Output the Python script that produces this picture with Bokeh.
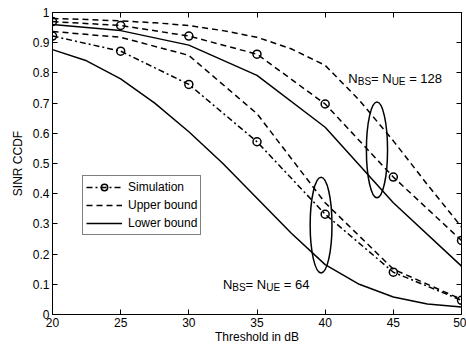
from bokeh.plotting import figure
from bokeh.models import LinearAxis, FixedTicker, CustomJSTickFormatter, Label
from bokeh.embed import file_html
from bokeh.resources import INLINE

# ---------------- data ----------------
thr = [20, 25, 30, 35, 40, 45, 50]
thr_fine = [20, 22.5, 25, 27.5, 30, 32.5, 35, 37.5, 40, 42.5, 45, 47.5, 50]

sim_128 = [0.970, 0.957, 0.922, 0.862, 0.697, 0.455, 0.245]
upper_128 = [0.980, 0.977, 0.972, 0.966, 0.957, 0.940, 0.918, 0.880, 0.825, 0.710, 0.575, 0.430, 0.290]
lower_128 = [0.960, 0.940, 0.892, 0.792, 0.620, 0.370, 0.160]

sim_64 = [0.922, 0.872, 0.762, 0.572, 0.332, 0.140, 0.047]
upper_64 = [0.937, 0.918, 0.858, 0.665, 0.370, 0.150, 0.050]
lower_64 = [0.877, 0.840, 0.780, 0.700, 0.605, 0.500, 0.385, 0.270, 0.165, 0.100, 0.058, 0.035, 0.025]

ellipse_x = [43.8, 39.7]
ellipse_y = [0.545, 0.296]
ellipse_w = [1.55, 1.6]
ellipse_h = [0.317, 0.317]

x_ticks = [20, 25, 30, 35, 40, 45, 50]
y_ticks = [0, 0.1, 0.2, 0.3, 0.4, 0.5, 0.6, 0.7, 0.8, 0.9, 1]
y_tick_labels = ["0", "0.1", "0.2", "0.3", "0.4", "0.5", "0.6", "0.7", "0.8", "0.9", "1"]

legend_labels = ["Simulation", "Upper bound", "Lower bound"]
x_label = "Threshold in dB"
y_label = "SINR CCDF"

label_128 = (41.7, 0.78, ["N", "BS", "= N", "UE", "= 128"])
label_64 = (32.5, 0.10, ["N", "BS", "= N", "UE", "= 64"])

# ---------------- figure ----------------
FONT = "Liberation Sans"
p = figure(width=466, height=346, x_range=(20, 50), y_range=(0, 1),
           output_backend="svg", toolbar_location=None,
           min_border_left=52, min_border_right=5, min_border_top=12, min_border_bottom=31)
p.background_fill_color = "white"
p.border_fill_color = "white"
p.outline_line_color = "black"
p.outline_line_width = 1
p.xgrid.visible = False
p.ygrid.visible = False

def style_axis(ax, ticks):
    ax.ticker = FixedTicker(ticks=ticks)
    ax.major_tick_in = 5
    ax.major_tick_out = 0
    ax.minor_tick_line_color = None
    ax.axis_line_color = "black"
    ax.major_tick_line_color = "black"
    ax.major_label_text_font = FONT
    ax.major_label_text_font_size = "12px"
    ax.major_label_text_color = "black"
    ax.axis_label_text_font = FONT
    ax.axis_label_text_font_size = "12px"
    ax.axis_label_text_font_style = "normal"
    ax.axis_label_text_color = "black"

style_axis(p.xaxis[0], x_ticks)
style_axis(p.yaxis[0], y_ticks)
p.xaxis[0].axis_label = x_label
p.yaxis[0].axis_label = y_label
p.xaxis[0].major_label_standoff = 3
p.xaxis[0].axis_label_standoff = 0
p.yaxis[0].major_label_standoff = 3
p.yaxis[0].axis_label_standoff = 5
p.yaxis[0].major_label_overrides = {t: s for t, s in zip(y_ticks, y_tick_labels)}

blank = CustomJSTickFormatter(code="return '';")
top = LinearAxis(formatter=blank)
style_axis(top, x_ticks)
top.major_label_text_font_size = "1px"
top.major_label_standoff = 0
right = LinearAxis(formatter=blank)
style_axis(right, y_ticks)
right.major_label_text_font_size = "1px"
right.major_label_standoff = 0
p.add_layout(top, "above")
p.add_layout(right, "right")

LW = 1.5
DASH = "6 4"
DASHDOT = "6 3 2 3"

# N = 64 group (drives the legend)
p.line(thr, sim_64, line_color="black", line_width=LW, line_dash=DASHDOT, legend_label=legend_labels[0])
p.scatter(thr, sim_64, marker="circle", size=8, fill_color=None, line_color="black", line_width=LW,
          legend_label=legend_labels[0])
p.line(thr, upper_64, line_color="black", line_width=LW, line_dash=DASH, legend_label=legend_labels[1])
p.line(thr_fine, lower_64, line_color="black", line_width=LW, legend_label=legend_labels[2])

# N = 128 group
p.line(thr, sim_128, line_color="black", line_width=LW, line_dash=DASH)
p.scatter(thr, sim_128, marker="circle", size=8, fill_color=None, line_color="black", line_width=LW)
p.line(thr_fine, upper_128, line_color="black", line_width=LW, line_dash=DASH)
p.line(thr, lower_128, line_color="black", line_width=LW)

# ellipses
p.ellipse(x=ellipse_x, y=ellipse_y, width=ellipse_w, height=ellipse_h,
          fill_color=None, line_color="black", line_width=LW)

# annotations with subscripts
def add_label(spec):
    x0, y0, parts = spec
    sizes = [13, 10, 13, 10, 13]
    yoffs = [0, -3, 0, -3, 0]
    xoffs = [0, 9.4, 22.7, 43.3, 60.8]
    for t, s, yo, xo in zip(parts, sizes, yoffs, xoffs):
        p.add_layout(Label(x=x0, y=y0, x_units="data", y_units="data", text=t,
                           x_offset=xo, y_offset=yo, text_font=FONT,
                           text_font_size=f"{s}px", text_baseline="alphabetic",
                           text_color="black"))

add_label(label_128)
add_label(label_64)

leg = p.legend[0]
leg.location = (30, 79)
leg.margin = 0
leg.padding = 3
leg.spacing = 2
leg.glyph_width = 36
leg.glyph_height = 16
leg.label_height = 16
leg.label_standoff = 6
leg.label_text_font = FONT
leg.label_text_font_size = "12px"
leg.label_text_color = "black"
leg.border_line_color = "black"
leg.border_line_width = 1
leg.background_fill_color = "white"
leg.background_fill_alpha = 1

open("out.html", "w").write(file_html(p, INLINE))
